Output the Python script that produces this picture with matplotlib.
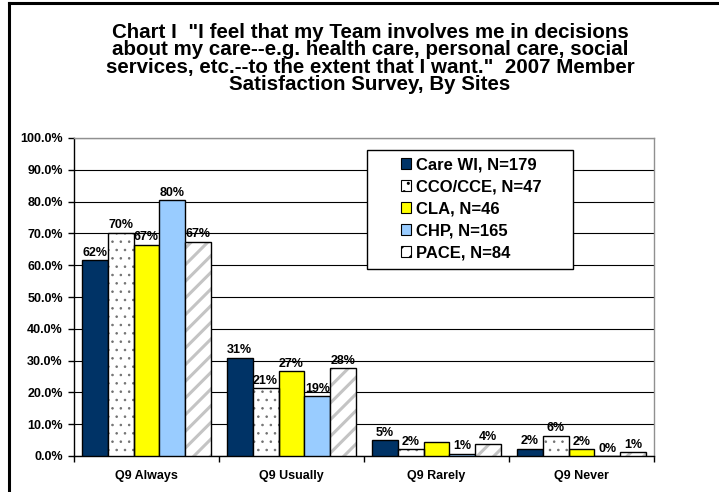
"""
plot.py - 2007 Member Satisfaction Survey, Q9 by site (grouped bar chart).
Saves out.png (719x492).
"""
import numpy as np
import matplotlib
matplotlib.use("Agg")
import matplotlib.pyplot as plt
from matplotlib.lines import Line2D
from matplotlib.patches import Patch, Rectangle

plt.rcParams["font.family"] = ["Liberation Sans", "DejaVu Sans"]
plt.rcParams["font.weight"] = "bold"
plt.rcParams["hatch.linewidth"] = 1.0

# ---- data ------------------------------------------------------------------
categories = ["Q9 Always", "Q9 Usually", "Q9 Rarely", "Q9 Never"]
series = ["Care WI, N=179", "CCO/CCE, N=47", "CLA, N=46", "CHP, N=165", "PACE, N=84"]

care_wi = [61.5, 30.9, 5.0, 2.3]
cco_cce = [70.2, 21.3, 2.1, 6.4]
cla = [66.5, 26.7, 4.4, 2.2]
chp = [80.4, 18.8, 0.7, 0.0]
pace = [67.4, 27.6, 3.7, 1.2]

# labels as printed on the chart (the CLA "Rarely" label is covered in the original)
care_wi_lbl = ["62%", "31%", "5%", "2%"]
cco_cce_lbl = ["70%", "21%", "2%", "6%"]
cla_lbl = ["67%", "27%", "", "2%"]
chp_lbl = ["80%", "19%", "1%", "0%"]
pace_lbl = ["67%", "28%", "4%", "1%"]

yticks = np.arange(0, 101, 10)

title_lines = [
    'Chart I  "I feel that my Team involves me in decisions',
    'about my care--e.g. health care, personal care, social',
    'services, etc.--to the extent that I want."  2007 Member',
    'Satisfaction Survey, By Sites',
]

# ---- styles ----------------------------------------------------------------
styles = [
    dict(face="#003366", hatch=None, hcol=None, hlw=1.0),
    dict(face="white", hatch="..", hcol="#707070", hlw=0.6),
    dict(face="#FFFF00", hatch=None, hcol=None, hlw=1.0),
    dict(face="#99CCFF", hatch=None, hcol=None, hlw=1.0),
    dict(face="white", hatch="//", hcol="#C4C4C4", hlw=2.2),
]
values = [care_wi, cco_cce, cla, chp, pace]
labels = [care_wi_lbl, cco_cce_lbl, cla_lbl, chp_lbl, pace_lbl]

W, H = 719, 492
fig = plt.figure(figsize=(W / 100, H / 100), dpi=100)
ax = fig.add_axes([74 / W, (H - 456) / H, 580 / W, 318 / H])

x = np.arange(len(categories))
n = len(series)
width = 1 / (n + 0.6)   # Excel gap width 60%

for k in range(n):
    st = styles[k]
    pos = x - 0.5 + 0.3 * width + (k + 0.5) * width
    if st["hatch"]:
        with plt.rc_context({"hatch.linewidth": st["hlw"]}):
            bars = ax.bar(pos, values[k], width, color=st["face"], edgecolor=st["hcol"],
                          hatch=st["hatch"], linewidth=0, zorder=3)
        for b in bars:
            if hasattr(b, "set_hatch_linewidth"):
                b.set_hatch_linewidth(st["hlw"])
        ax.bar(pos, values[k], width, fill=False, edgecolor="black",
               linewidth=1.0, zorder=4)
    else:
        ax.bar(pos, values[k], width, color=st["face"], edgecolor="black",
               linewidth=1.0, zorder=3)
    for xi, v, t in zip(pos, values[k], labels[k]):
        if t:
            ax.annotate(t, (xi, v), xytext=(0, 1), textcoords="offset points",
                        ha="center", va="bottom", fontsize=9, fontweight="bold",
                        zorder=5)

ax.set_xlim(-0.5, len(categories) - 0.5)
ax.set_ylim(0, 100)
ax.set_yticks(yticks)
ax.set_yticklabels([f"{t:.1f}%" for t in yticks], fontsize=9, fontweight="bold")
ax.set_xticks(x)
ax.set_xticklabels(categories, fontsize=9, fontweight="bold")
ax.tick_params(axis="x", length=0, pad=10)
ax.set_xticks(np.arange(-0.5, len(categories)), minor=True)
ax.tick_params(axis="x", which="minor", length=4, width=1, direction="out")
ax.tick_params(axis="y", length=4.5, width=1, direction="out", pad=3.5)
ax.grid(axis="y", color="black", linewidth=0.8, zorder=0)
ax.set_axisbelow(True)
for side in ["top", "right"]:
    ax.spines[side].set_color("#909090")
    ax.spines[side].set_linewidth(1.0)
for side in ["left", "bottom"]:
    ax.spines[side].set_color("black")
    ax.spines[side].set_linewidth(1.0)

# legend: Excel box is wider than its contents, so draw the frame separately
handles = []
for st in styles:
    p = Patch(facecolor=st["face"], edgecolor="black", hatch=st["hatch"],
              linewidth=0.8)
    handles.append(p)
leg = fig.legend(handles, series, loc="upper left",
                 bbox_to_anchor=(393 / W, 1 - 150 / H),
                 frameon=False, handlelength=0.62, handleheight=0.62,
                 handletextpad=0.3, labelspacing=0.42, borderpad=0.45,
                 borderaxespad=0, prop={"weight": "bold", "size": 12})
leg.set_zorder(6)
box = Rectangle((367 / W, 1 - 269 / H), 206 / W, 119 / H,
                transform=fig.transFigure, facecolor="white",
                edgecolor="black", linewidth=1.0, zorder=5)
fig.add_artist(box)

# title: the Excel title is set tighter than matplotlib's line spacing allows,
# so each line is placed on its own
for i, line in enumerate(title_lines):
    fig.text(370 / W, 1 - (32 + 17.5 * i) / H, line, ha="center", va="center",
             fontsize=14.8, fontweight="bold")

# outer chart frame (only top and left edges fall inside the picture)
fig.add_artist(Line2D([9 / W, 1], [1 - 3 / H, 1 - 3 / H], color="black",
                      linewidth=2.2, transform=fig.transFigure))
fig.add_artist(Line2D([9 / W, 9 / W], [0, 1 - 3 / H], color="black",
                      linewidth=2.2, transform=fig.transFigure))

fig.savefig("out.png", dpi=100)
